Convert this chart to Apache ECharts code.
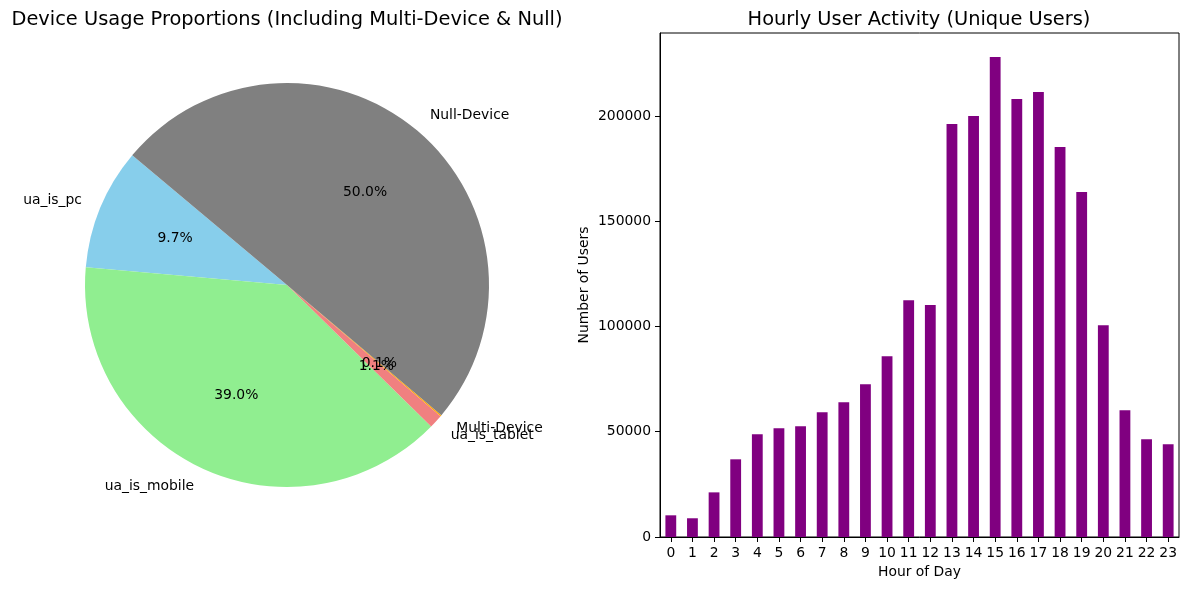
<!DOCTYPE html>
<html>
<head>
<meta charset="utf-8">
<title>Device usage and hourly activity</title>
<script src="https://cdn.jsdelivr.net/npm/echarts@6/dist/echarts.min.js"></script>
<style>
  html, body { margin: 0; padding: 0; background: #fff; }
  #chart { width: 1188px; height: 590px; }
</style>
</head>
<body>
<div id="chart"></div>
<script>
// pie: device shares (percent)
var deviceNames = ['ua_is_pc', 'ua_is_mobile', 'ua_is_tablet', 'Multi-Device', 'Null-Device']
var deviceShares = [9.72, 39.04, 1.10, 0.10, 50.04]
var deviceColors = ['#87ceeb', '#90ee90', '#f08080', '#ffa500', '#808080']

// bars: unique users by hour
var hours = ['0', '1', '2', '3', '4', '5', '6', '7', '8', '9', '10', '11',
  '12', '13', '14', '15', '16', '17', '18', '19', '20', '21', '22', '23']
var hourlyUsers = [10300, 8900, 21200, 36900, 48800, 51700, 52600, 59300, 64000, 72600, 85900, 112500,
  110200, 196200, 200000, 228000, 208100, 211400, 185300, 163900, 100600, 60200, 46400, 44100]

var font = 'DejaVu Sans'
var chart = echarts.init(document.getElementById('chart'))

var pieData = []
var pctData = []
for (var i = 0; i < deviceNames.length; i++) {
  pieData.push({ name: deviceNames[i], value: deviceShares[i], itemStyle: { color: deviceColors[i] } })
  pctData.push({ name: deviceNames[i], value: deviceShares[i] })
}

var option = {
  animation: false,
  textStyle: { fontFamily: font, color: '#000' },
  title: [{
    text: 'Device Usage Proportions (Including Multi-Device & Null)',
    left: 282,
    top: 5,
    textAlign: 'center',
    textStyle: { fontFamily: font, fontSize: 19.4, fontWeight: 'normal', color: '#000' }
  }, {
    text: 'Hourly User Activity (Unique Users)',
    left: 914,
    top: 5,
    textAlign: 'center',
    textStyle: { fontFamily: font, fontSize: 19.4, fontWeight: 'normal', color: '#000' }
  }],
  grid: {
    left: 660,
    right: 9,
    top: 33,
    bottom: 53,
    show: true,
    borderColor: '#000',
    borderWidth: 1,
    backgroundColor: 'transparent'
  },
  xAxis: {
    type: 'category',
    data: hours,
    boundaryGap: true,
    name: 'Hour of Day',
    nameLocation: 'middle',
    nameGap: 28,
    nameTextStyle: { fontFamily: font, fontSize: 13.9, color: '#000' },
    axisLine: { show: true, lineStyle: { color: '#000', width: 1 } },
    axisTick: { show: true, alignWithLabel: true, length: 5, lineStyle: { color: '#000' } },
    axisLabel: { interval: 0, margin: 9, fontFamily: font, fontSize: 13.9, color: '#000' },
    splitLine: { show: false }
  },
  yAxis: {
    type: 'value',
    min: 0,
    max: 239400,
    interval: 50000,
    name: 'Number of Users',
    nameLocation: 'middle',
    nameGap: 69,
    nameTextStyle: { fontFamily: font, fontSize: 13.9, color: '#000' },
    axisLine: { show: true, lineStyle: { color: '#000', width: 1 } },
    axisTick: { show: true, length: 5, lineStyle: { color: '#000' } },
    axisLabel: {
      showMaxLabel: false,
      margin: 9,
      fontFamily: font,
      fontSize: 13.9,
      color: '#000',
      formatter: function (v) { return String(v) }
    },
    splitLine: { show: false }
  },
  series: [{
    type: 'pie',
    center: [287, 285],
    radius: 202,
    startAngle: 140,
    clockwise: false,
    avoidLabelOverlap: false,
    minShowLabelAngle: 0,
    labelLayout: { hideOverlap: false },
    silent: true,
    itemStyle: { borderWidth: 0 },
    label: {
      show: true,
      position: 'outside',
      fontFamily: font,
      fontSize: 13.9,
      color: '#000',
      distanceToLabelLine: 0,
      formatter: '{b}'
    },
    labelLine: { show: false, length: 20, length2: 0 },
    data: pieData
  }, {
    // transparent copy, used only to place percentage labels at 0.6 r
    type: 'pie',
    center: [287, 285],
    radius: 236.4,
    startAngle: 140,
    clockwise: false,
    avoidLabelOverlap: false,
    minShowLabelAngle: 0,
    labelLayout: { hideOverlap: false },
    silent: true,
    z: 3,
    itemStyle: { color: 'rgba(0,0,0,0)', borderWidth: 0 },
    label: {
      show: true,
      position: 'inside',
      fontFamily: font,
      fontSize: 13.9,
      color: '#000',
      formatter: function (p) { return p.value.toFixed(1) + '%' }
    },
    labelLine: { show: false },
    data: pctData
  }, {
    type: 'bar',
    data: hourlyUsers,
    barWidth: '50%',
    itemStyle: { color: '#800080' }
  }]
}

chart.setOption(option)
</script>
</body>
</html>
